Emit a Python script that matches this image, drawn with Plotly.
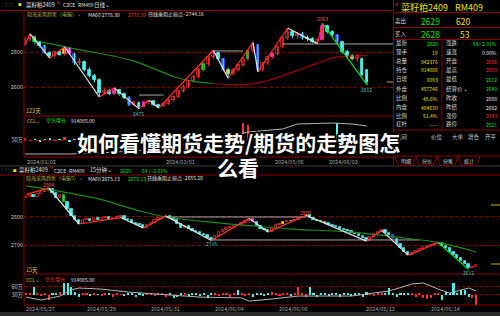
import plotly.graph_objects as go

W, H = 500, 316
FONT = "Noto Sans CJK SC, Noto Sans, sans-serif"

# ---------------- data: top (daily) ----------------
top_open = [2845,2875,2885,2855,2835,2795,2780,2800,2788,2815,
            2790,2735,2745,2700,2665,2640,2565,2578,2562,2585,
            2560,2540,2500,2510,2488,2512,2520,2498,2490,2505,
            2525,2545,2575,2600,2635,2660,2700,2730,2770,2795,
            2760,2700,2672,2700,2725,2760,2805,2840,2700,2735,
            2770,2790,2830,2880,2915,2890,2905,2880,2875,2860,
            2870,2950,2915,2895,2860,2800,2775,2760,2760,2695]
top_close = [2875,2890,2855,2835,2795,2780,2800,2785,2815,2790,
             2735,2745,2700,2665,2640,2565,2580,2560,2585,2560,
             2540,2500,2512,2485,2512,2520,2498,2488,2505,2525,
             2545,2575,2600,2635,2660,2700,2730,2770,2795,2760,
             2700,2672,2700,2725,2760,2805,2840,2700,2735,2770,
             2790,2830,2880,2915,2890,2905,2880,2875,2860,2870,
             2950,2915,2895,2860,2800,2775,2760,2775,2670,2628]
top_high = [2885,2905,2892,2862,2840,2805,2808,2812,2830,2825,
            2795,2765,2750,2712,2675,2650,2595,2590,2595,2590,
            2568,2548,2522,2518,2520,2525,2524,2505,2512,2530,
            2552,2582,2610,2642,2672,2710,2742,2780,2810,2800,
            2765,2710,2708,2735,2768,2812,2855,2845,2742,2778,
            2800,2838,2890,2937,2920,2912,2915,2895,2885,2878,
            2963,2955,2925,2900,2865,2812,2790,2790,2768,2700]
top_low = [2835,2860,2845,2825,2790,2765,2772,2778,2780,2785,
           2725,2725,2690,2655,2625,2543,2555,2552,2555,2550,
           2530,2492,2495,2475,2482,2500,2490,2480,2484,2498,
           2515,2538,2568,2592,2625,2650,2690,2720,2760,2752,
           2690,2650,2665,2690,2715,2750,2798,2686,2690,2725,
           2760,2780,2822,2870,2880,2875,2870,2862,2852,2848,
           2865,2905,2880,2850,2790,2765,2752,2745,2660,2612]
top_ma_idx = [2, 6, 10, 14, 18, 22, 26, 30, 34, 38, 42, 46, 50, 54, 58, 62, 66, 69]
top_ma_val = [2865,2842,2818,2797,2776,2748,2705,2660,2632,2620,2612,2618,2645,2685,2725,2766,2778,2780]
top_ma_green_until = 38
top_zz_idx = [0, 1, 5, 8, 15, 18, 23, 25, 27, 38, 41, 46, 47, 53, 59, 60, 69]
top_zz_val = [2840,2905,2765,2830,2543,2595,2475,2525,2480,2810,2650,2855,2686,2937,2848,2963,2612]
top_levels = [(23, 28, 2554), (38, 44, 2806), (52, None, 2846)]
top_vol = [2,-1,1,-2,1,2,-1,1,3,-2,
           1,-1,2,1,-2,3,1,-1,2,-2,
           1,-1,2,3,-2,1,2,-1,1,-2,
           2,1,-1,2,1,-2,3,1,2,-1,
           2,1,-2,3,17,15,6,-3,2,-2,
           3,2,4,-2,3,2,-3,2,3,-2,
           4,3,-3,17,-10,3,-4,2,-6,-8]
top_oi_idx = [0, 9, 15, 25, 35, 45, 52, 55, 62, 66, 69]
top_oi_val = [36, 36, 37, 40, 47, 58, 61, 66, 67, 66, 64]
top_date_idx = [0, 28, 50, 61]
top_date_txt = ['2024/01/02', '2024/03/01', '2024/05/06', '2024/06/03']
top_marks = [(23, '2475', -1), (60, '2963', 1), (69, '2612', -1)]

# ---------------- data: bottom (15 min) ----------------
bot_first_open = 2868
bot_close = [2872,2878,2870,2882,2888,2892,2900,2885,2868,2878,
             2852,2830,2805,2788,2776,2788,2792,2786,2795,2790,
             2797,2800,2793,2796,2799,2802,2794,2788,2780,2776,
             2770,2762,2772,2780,2788,2795,2800,2803,2796,2788,
             2776,2760,2768,2756,2750,2746,2740,2734,2726,2718,
             2732,2745,2752,2760,2766,2772,2770,2778,2785,2793,
             2782,2768,2758,2752,2748,2760,2770,2776,2782,2786,
             2784,2790,2795,2800,2806,2796,2790,2786,2782,2778,
             2772,2768,2763,2758,2752,2750,2744,2738,2732,2724,
             2716,2728,2738,2745,2752,2742,2735,2720,2705,2690,
             2676,2664,2672,2680,2686,2692,2696,2700,2704,2708,
             2698,2688,2676,2664,2652,2642,2632,2618,2622,2628]
bot_ma_idx = [0, 10, 20, 30, 37, 50, 60, 70, 86, 100, 110, 119]
bot_ma_val = [2911,2889,2862,2822,2800,2780,2768,2757,2746,2725,2707,2675]
bot_zz_idx = [0, 6, 14, 25, 31, 37, 49, 59, 64, 74, 90, 94, 101, 109, 117]
bot_zz_val = [2880,2904,2775,2798,2761,2803,2716,2795,2746,2806,2714,2752,2664,2708,2612]
bot_levels = [(37, 74, 2800), (49, 104, 2718)]
bot_vol = [8,4,30,6,-4,5,-19,4,8,12,
           45,45,30,10,-6,5,4,-5,6,3,
           -4,5,8,-6,4,3,-5,6,4,-8,
           5,-4,6,4,-3,7,5,-6,4,-10,
           -8,6,5,-5,4,6,-4,5,-12,8,
           6,-5,7,4,-6,5,20,4,-4,5,
           -6,4,5,-5,6,10,4,-5,6,4,
           -5,8,30,6,-6,28,5,-8,4,6,
           -5,6,4,-7,5,8,-4,6,5,-6,
           10,6,-5,4,7,5,25,4,-6,5,
           6,8,4,-6,5,-12,-14,-12,6,5,
           -18,10,8,45,6,20,18,-6,-10,-37]
bot_oi_idx = [0,4,9,12,14,20,27,35,46,57,59,65,72,86,96,102,105,109,112,117,119]
bot_oi_val = [22,11,26,49,56,52,41,34,22,19,7,15,26,26,45,71,75,52,37,56,45]
bot_date_idx = [0, 16, 33, 50, 67, 90, 107]
bot_date_txt = ['2024/05/27','2024/05/29','2024/05/31','2024/06/04','2024/06/06','2024/06/12','2024/06/14']
bot_marks = [(6, '2904', 1), (49, '2716', -1), (74, '2806', 1), (117, '2612', -1)]

# info panel
info_left_labels = ['最新','现手','总量','持仓','日增','外盘','比例','内盘','比例','杠杆']
info_left_values = ['2628','19','942376','914086','6993','457746','48.6%','484630','51.4%','-----']
info_right_labels = ['涨跌','速涨','开盘','最高','最低','结算价⌄','昨收','昨结','涨停','跌停']
info_right_values = ['-54/-2.01%','0.00%','2686','2699','2612','2649','2688','2682','2843','2521']

# ---------------- style ----------------
RED = '#ff3030'; CYAN = '#4cf0f0'; WHITE = '#e6e6e6'; GREEN = '#10e010'
YEL = '#e8e000'; FRAME = '#8b0000'; GRID = '#8b0000'; GRAY = '#b4b4b4'
BLUE = '#3050ff'; MAG = '#ff30ff'; GOLD = '#ffd000'
top_special = {2: GREEN, 4: BLUE, 8: GOLD, 9: MAG, 10: BLUE, 18: MAG, 21: BLUE, 24: MAG,
               36: '#20d020', 40: BLUE, 41: GOLD, 45: '#20d020', 47: BLUE, 50: MAG,
               56: BLUE, 60: MAG, 63: BLUE, 66: '#ffa000'}
bot_special = {10: GREEN, 60: MAG, 68: GOLD, 79: GOLD, 97: BLUE}

TOP_XR = [-0.2, 74.25]
BOT_XR = [-0.53, 125.3]

fig = go.Figure()


def dom(y_top, y_bot):
    return [1 - y_bot / H, 1 - y_top / H]


def add_candles(o, c, h, l, special, xa, ya, width, minbody):
    idx = list(range(len(c)))
    if h is not None:
        for up_side, col in ((True, RED), (False, CYAN)):
            xs, ys = [], []
            for i in idx:
                if (c[i] >= o[i]) == up_side:
                    xs += [i, i, None]
                    ys += [l[i], h[i], None]
            fig.add_trace(go.Scatter(x=xs, y=ys, mode='lines', line=dict(color=col, width=1),
                                     xaxis=xa, yaxis=ya, hoverinfo='skip'))
    base = [min(o[i], c[i]) for i in idx]
    hgt = [max(abs(c[i] - o[i]), minbody) for i in idx]
    fill, edge = [], []
    for i in idx:
        if i in special:
            fill.append(special[i]); edge.append(special[i])
        elif c[i] >= o[i]:
            fill.append('#000000'); edge.append(RED)
        else:
            fill.append(CYAN); edge.append(CYAN)
    fig.add_trace(go.Bar(x=idx, y=hgt, base=base, width=width,
                         marker=dict(color=fill, line=dict(color=edge, width=0.8)),
                         xaxis=xa, yaxis=ya, hoverinfo='skip'))


def add_zigzag(idx, val, xa, ya):
    segs = {RED: ([], []), WHITE: ([], []), GREEN: ([], [])}
    n = len(idx)
    for k in range(n - 1):
        col = RED if val[k + 1] > val[k] else WHITE
        if k == n - 2:
            col = GREEN
        segs[col][0].extend([idx[k], idx[k + 1], None])
        segs[col][1].extend([val[k], val[k + 1], None])
    for col, (xs, ys) in segs.items():
        fig.add_trace(go.Scatter(x=xs, y=ys, mode='lines', line=dict(color=col, width=1.2),
                                 xaxis=xa, yaxis=ya, hoverinfo='skip'))


def add_levels(levels, xa, ya, right):
    for a, b, p in levels:
        fig.add_trace(go.Scatter(x=[a, right if b is None else b], y=[p, p], mode='lines',
                                 line=dict(color='#a8a8a8', width=1), xaxis=xa, yaxis=ya,
                                 hoverinfo='skip'))


# ---- top price panel ----
add_levels(top_levels, 'x', 'y', TOP_XR[1])
gi = [k for k, i in enumerate(top_ma_idx) if i <= top_ma_green_until]
ri = [k for k, i in enumerate(top_ma_idx) if i >= top_ma_green_until]
fig.add_trace(go.Scatter(x=[top_ma_idx[k] for k in gi], y=[top_ma_val[k] for k in gi], mode='lines',
                         line=dict(color='#1c8c1c', width=1.2, shape='spline'), xaxis='x', yaxis='y'))
fig.add_trace(go.Scatter(x=[top_ma_idx[k] for k in ri], y=[top_ma_val[k] for k in ri], mode='lines',
                         line=dict(color='#a00000', width=1.2, shape='spline'), xaxis='x', yaxis='y'))
add_candles(top_open, top_close, top_high, top_low, top_special, 'x', 'y', 0.58, 5)
add_zigzag(top_zz_idx, top_zz_val, 'x', 'y')

# ---- top volume panel ----
tv_col = [RED if top_close[i] >= top_open[i] else CYAN for i in range(len(top_vol))]
fig.add_trace(go.Bar(x=list(range(len(top_vol))), y=top_vol, base=50, width=0.5,
                     marker=dict(color=tv_col, line=dict(width=0)), xaxis='x2', yaxis='y2'))
fig.add_trace(go.Scatter(x=top_oi_idx, y=top_oi_val, mode='lines', line=dict(color=GRAY, width=1),
                         xaxis='x2', yaxis='y2'))

# ---- bottom price panel ----
bot_open = [bot_first_open] + bot_close[:-1]
add_levels(bot_levels, 'x3', 'y3', None)
fig.add_trace(go.Scatter(x=bot_ma_idx, y=bot_ma_val, mode='lines',
                         line=dict(color='#1c8c1c', width=1.2, shape='spline'), xaxis='x3', yaxis='y3'))
add_candles(bot_open, bot_close, None, None, bot_special, 'x3', 'y3', 0.62, 3)
add_zigzag(bot_zz_idx, bot_zz_val, 'x3', 'y3')

# ---- bottom volume panel ----
bv_col = [RED if bot_close[i] >= bot_open[i] else CYAN for i in range(len(bot_vol))]
fig.add_trace(go.Bar(x=list(range(len(bot_vol))), y=bot_vol, base=30, width=0.55,
                     marker=dict(color=bv_col, line=dict(width=0)), xaxis='x4', yaxis='y4'))
fig.add_trace(go.Scatter(x=bot_oi_idx, y=bot_oi_val, mode='lines', line=dict(color=GRAY, width=1),
                         xaxis='x4', yaxis='y4'))

# ---------------- axes ----------------
xcommon = dict(showgrid=False, zeroline=False, showticklabels=False, showline=False, ticks='', fixedrange=True)
ycommon = dict(showgrid=True, gridcolor=GRID, griddash='dot', gridwidth=1, zeroline=False, showline=False,
               ticks='', tickfont=dict(size=5.5, color='#c8c8c8', family=FONT), fixedrange=True)
TOPX = [24 / W, 393 / W]
BOTX = [24 / W, 1.0]
fig.update_layout(
    xaxis=dict(domain=TOPX, range=TOP_XR, anchor='y', **xcommon),
    yaxis=dict(domain=dom(16, 114), range=[2445.7, 3005.7], anchor='x',
               tickvals=[2600, 2800], ticktext=['2600', '2800'], **ycommon),
    xaxis2=dict(domain=TOPX, range=TOP_XR, anchor='y2', **xcommon),
    yaxis2=dict(domain=dom(118, 157), range=[33, 72], anchor='x2',
                tickvals=[50], ticktext=['50万'], **ycommon),
    xaxis3=dict(domain=BOTX, range=BOT_XR, anchor='y3', **xcommon),
    yaxis3=dict(domain=dom(180, 274), range=[2596.5, 2932], anchor='x3',
                tickvals=[2700, 2800], ticktext=['2700', '2800'], **ycommon),
    xaxis4=dict(domain=BOTX, range=BOT_XR, anchor='y4', **xcommon),
    yaxis4=dict(domain=dom(276, 305), range=[-7.5, 101], anchor='x4',
                tickvals=[30, 60], ticktext=['30万', '60万'], **ycommon),
)

# ---------------- shapes (frames) ----------------
shapes = []


def L(x0, y0, x1, y1, color=FRAME, width=1):
    shapes.append(dict(type='line', xref='paper', yref='paper', x0=x0 / W, x1=x1 / W,
                       y0=1 - y0 / H, y1=1 - y1 / H, line=dict(color=color, width=width)))


# top screenshot frames
L(0, 10.5, 393, 10.5)
L(24, 10.5, 24, 157)
L(24, 116, 393, 116)
L(24, 157, 393, 157)
L(0, 166, 500, 166, '#3a3a3a')
# info panel
L(393.5, 0, 393.5, 166)
L(393, 12.5, 500, 12.5)
L(393, 27.5, 500, 27.5)
L(393, 39.5, 500, 39.5)
L(442, 39.5, 442, 130)
L(393, 130, 500, 130)
L(393, 156, 500, 156)
for xa, xb in [(395, 416), (416, 437), (437, 458), (458, 480)]:
    L(xa, 156, xa + 3, 165)
    L(xa + 3, 165, xb - 3, 165)
    L(xb - 3, 165, xb, 156)
# little price markers
L(387, 82, 393, 82, '#c8b400')
L(491, 205, 500, 205, '#c8b400')
L(491, 264, 500, 264, '#c8b400')
# bottom screenshot frames
L(0, 175, 500, 175)
L(24, 175, 24, 305)
L(24, 274, 500, 274)
L(24, 305, 500, 305)
shapes.append(dict(type='rect', xref='paper', yref='paper', x0=0, x1=1, y0=0, y1=1 - 312 / H,
                   fillcolor='#2a2a2a', line=dict(width=0)))

# ---------------- annotations ----------------
ann = []


def T(x, y, text, color, size=5.5, anchor='left', bold=False):
    ann.append(dict(x=x / W, y=1 - y / H, xref='paper', yref='paper', text=text, showarrow=False,
                    xanchor=anchor, yanchor='middle', borderpad=0,
                    font=dict(family=FONT, size=size, color=color, weight='bold' if bold else 'normal')))


# top header
T(1, 5, '○○○', '#8c8c8c', 4)
T(17, 5, '■', YEL, 3.5)
T(25, 5, '菜籽粕2409', '#e0e0e0', 5.5)
T(56, 2.5, 'M', RED, 3.5)
T(62, 5, 'C2CE', '#e0e0e0', 5)
T(77, 5, 'RM409', '#e0e0e0', 5)
T(93, 5, '日线⌄', '#e0e0e0', 5.5)
T(26, 14, '隐海采风趋势（电脑）⌄', '#b0b040', 5)
T(87, 14, 'MA60 2778.30', '#e0e0e0', 5)
T(127, 14, '2778.30', RED, 5)
T(147, 14, '日线乘阻止损点 -2744.16', '#e0e0e0', 5)
T(25, 111, '123天', '#d8c850', 5.5)
T(26, 120, 'CCL⌄', '#c8c040', 5)
T(45, 120, '空头增仓', GREEN, 5)
T(70, 120, '914085.00', '#e0e0e0', 5)
for i, t in zip(top_date_idx, top_date_txt):
    ann.append(dict(x=i, xref='x2', y=1 - 162 / H, yref='paper', text=t, showarrow=False,
                    xanchor='left', yanchor='middle', font=dict(family=FONT, size=5.5, color='#a8a8a8')))
for i, t, d in top_marks:
    ann.append(dict(x=i, xref='x', y=top_high[i] if d > 0 else top_low[i], yref='y', text=t,
                    showarrow=False, yshift=5 * d, yanchor='middle',
                    font=dict(family=FONT, size=5, color='#ff5050' if d > 0 else '#40c8c8')))

# info panel
T(394, 4, 'M', RED, 4)
T(400, 7, '菜籽粕2409', YEL, 9)
T(454, 7, 'RM409', YEL, 9)
T(394, 21, '卖出', '#d8d8d8', 5.5)
T(420, 21, '2629', GREEN, 8.5)
T(455, 21, '620', YEL, 8.5)
T(394, 33.5, '买入', '#d8d8d8', 5.5)
T(420, 33.5, '2628', GREEN, 8.5)
T(459, 33.5, '53', YEL, 8.5)
rows_y = [43, 52, 61, 70, 79, 89, 98, 107, 116, 124]
lcol = [GREEN] + [YEL] * 9
rcol = [GREEN, '#e8e8e8', RED, RED, GREEN, GREEN, '#e8e8e8', '#e8e8e8', RED, GREEN]
for k, yy in enumerate(rows_y):
    T(395, yy, info_left_labels[k], '#d8d8d8', 5.5)
    T(439, yy, info_left_values[k], lcol[k], 5, 'right')
    T(445, yy, info_right_labels[k], '#d8d8d8', 5.5)
    T(498, yy, info_right_values[k], rcol[k], 5, 'right')
T(395, 137, '时间', '#c8c8c8', 5.5)
T(430, 137, '价位', '#c8c8c8', 5.5)
T(451, 137, '大单', '#c8c8c8', 5.5)
T(467, 137, '增仓', '#c8c8c8', 5.5)
T(484, 137, '开平', '#c8c8c8', 5.5)
for xc, t in zip([406, 427, 448, 469], ['明细', '分价', '分笔', '统计']):
    T(xc, 160.5, t, '#d0d0d0', 5, 'center')

# bottom header
T(1, 170, '○○○', '#8c8c8c', 4)
T(12, 170, '■', YEL, 3.5)
T(18, 170, '菜籽粕2409', '#e0e0e0', 5.5)
T(49, 167.5, 'M', RED, 3.5)
T(53, 170, 'C2CE', '#e0e0e0', 5)
T(68, 170, 'RM409', '#e0e0e0', 5)
T(89, 170, '15分钟⌄', '#e0e0e0', 5.5)
T(119, 170, '2628', GREEN, 5)
T(139, 170, '-54 / -2.01%', GREEN, 5)
T(25, 178, '隐海采风趋势（电脑5）⌄', '#b0b040', 5)
T(87, 178, 'MA60 2675.13', '#e0e0e0', 5)
T(127, 178, '2675.13', GREEN, 5)
T(146, 178, '日线乘阻止损点 -2655.20', '#e0e0e0', 5)
T(25, 270, '15天', '#d8c850', 5.5)
T(25, 279, 'CCL⌄', '#c8c040', 5)
T(44, 279, '空头增仓', RED, 5)
T(70, 279, '914085.00', '#e0e0e0', 5)
for i, t in zip(bot_date_idx, bot_date_txt):
    ann.append(dict(x=i, xref='x4', y=1 - 309 / H, yref='paper', text=t, showarrow=False,
                    xanchor='left', yanchor='middle', font=dict(family=FONT, size=5.5, color='#a8a8a8'),
                    xshift=-2))
for i, t, d in bot_marks:
    ann.append(dict(x=i, xref='x3', y=bot_zz_val[bot_zz_idx.index(i)], yref='y3', text=t,
                    showarrow=False, yshift=3 * d, yanchor='middle',
                    font=dict(family=FONT, size=5, color='#ff5050' if d > 0 else '#40c8c8')))

# title overlay
outline = ('-1.5px -1.5px 0 #000, 1.5px -1.5px 0 #000, -1.5px 1.5px 0 #000, 1.5px 1.5px 0 #000, '
           '0 2px 0 #000, 0 -2px 0 #000, 2px 0 0 #000, -2px 0 0 #000')
for txt, yy in [('如何看懂期货走势/期货的走势图怎', 142), ('么看', 167)]:
    ann.append(dict(x=238 / W, y=1 - yy / H, xref='paper', yref='paper', text=txt, showarrow=False,
                    xanchor='center', yanchor='middle',
                    font=dict(family='Noto Sans CJK SC', size=21, color='#ffffff', weight='bold',
                              shadow=outline)))

fig.update_layout(
    width=W, height=H, margin=dict(l=0, r=0, t=0, b=0),
    paper_bgcolor='#000000', plot_bgcolor='#000000',
    showlegend=False, barmode='overlay', bargap=0,
    font=dict(family=FONT, color='#c8c8c8'),
    shapes=shapes, annotations=ann,
)

fig.write_html("out.html")
